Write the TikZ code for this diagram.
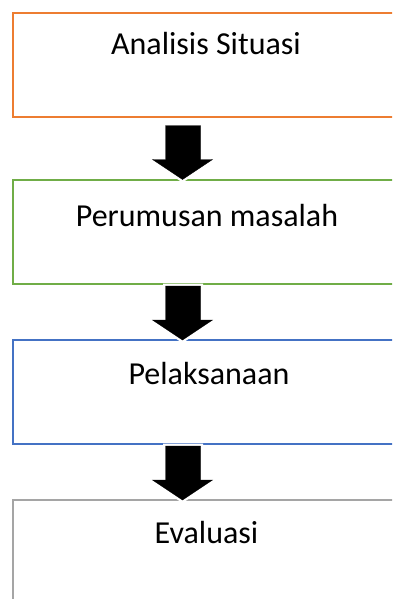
\documentclass[tikz,border=0pt]{standalone}
\usepackage{fontspec}
\setmainfont{Carlito}
\definecolor{boxorange}{HTML}{ED7D31}
\definecolor{boxgreen}{HTML}{70AD47}
\definecolor{boxblue}{HTML}{4472C4}
\definecolor{boxgray}{HTML}{A5A5A5}
\tikzset{
  stepbox/.style={rectangle, outer sep=0pt, inner sep=0pt,
    minimum width=384pt, anchor=north west},
  boxline/.style={draw=#1, line width=2pt, line join=miter},
  lbl/.style={anchor=base, inner sep=0pt, font=\fontsize{32}{38}\selectfont},
  blockarrow/.style={fill=black, preaction={draw=white, line width=5pt, line join=miter}}
}
\begin{document}
\begin{tikzpicture}[x=1pt,y=-1pt]
\useasboundingbox (0,0) rectangle (392,599);
\clip (0,0) rectangle (392,599);
\fill[white] (0,0) rectangle (392,599);
% boxes (open at the right, running past the edge of the picture)
\node[stepbox, minimum height=104pt] (b1) at (13,13.5) {};
\node[stepbox, minimum height=104.5pt] (b2) at (13,179.5) {};
\node[stepbox, minimum height=104pt] (b3) at (13,340) {};
\node[stepbox, minimum height=150pt] (b4) at (13,500) {};
\draw[boxline=boxorange] (b1.north east) -- (b1.north west) -- (b1.south west) -- (b1.south east);
\draw[boxline=boxgreen]  (b2.north east) -- (b2.north west) -- (b2.south west) -- (b2.south east);
\draw[boxline=boxblue]   (b3.north east) -- (b3.north west) -- (b3.south west) -- (b3.south east);
\draw[boxline=boxgray]   (b4.north east) -- (b4.north west) -- (b4.south west);
% labels
\node[lbl] (t1) at (206,55) {Analisis Situasi};
\node[lbl] (t2) at (207,226) {Perumusan masalah};
\node[lbl] (t3) at (209,384) {Pelaksanaan};
\node[lbl] (t4) at (206.5,543) {Evaluasi};
% arrows (tip on the top edge of the next box)
\foreach \nxt in {b2,b3,b4}{
  \draw[blockarrow] ([xshift=169.5pt]\nxt.north west) -- ++(-30,-20) -- ++(13,0) -- ++(0,-34)
     -- ++(35,0) -- ++(0,34) -- ++(12,0) -- cycle;
}
\end{tikzpicture}
\end{document}
